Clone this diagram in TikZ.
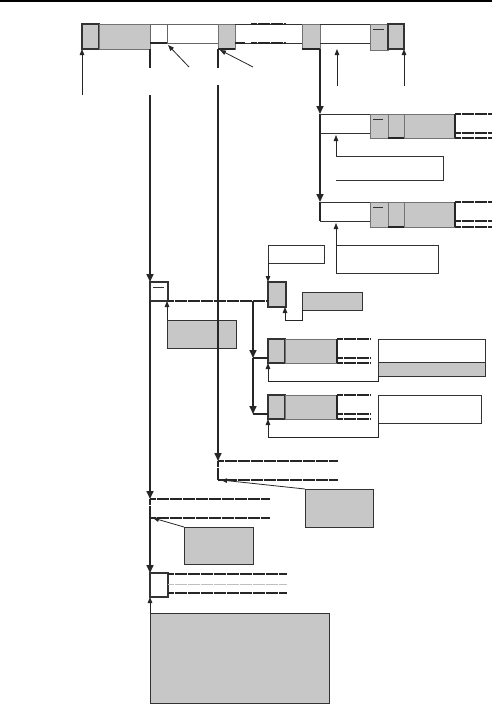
\documentclass[tikz,border=0pt]{standalone}
\usepackage{tikz}
\usetikzlibrary{arrows.meta,calc}

\begin{document}
\begin{tikzpicture}[
    x=1pt, y=-1pt,
    gbox/.style={rectangle, draw=black!55, fill=black!22, line width=0.8pt, inner sep=0pt, outer sep=0pt, anchor=north west},
    wbox/.style={rectangle, draw=black!80, fill=white, line width=0.8pt, inner sep=0pt, outer sep=0pt, anchor=north west},
    thk/.style={line width=1.6pt, draw=black!85},
    ln/.style={line width=0.8pt, draw=black!80},
    txt/.style={line width=1.8pt, draw=black!85, dash pattern=on 6pt off 0.5pt},
    arr/.style={-{Triangle[length=6pt,width=4.5pt]}, line width=0.8pt, draw=black!85},
    marr/.style={-{Triangle[length=8pt,width=7pt]}, line width=1.6pt, draw=black!85}
]
    \useasboundingbox (0,0) rectangle (492,704);
    \draw [line width=1.2pt] (0,1) -- (492,1);

    % top row
    \node [gbox, line width=1.5pt, draw=black!80, minimum width=17pt, minimum height=25pt] (t1) at (82,24) {};
    \node [gbox, minimum width=51pt, minimum height=25pt] (t2) at (99,24) {};
    \node [wbox, draw=black!60, minimum width=17pt, minimum height=19pt] (t3) at (150,24) {};
    \node [wbox, draw=black!60, minimum width=51pt, minimum height=19pt] (t4) at (167,24) {};
    \node [gbox, minimum width=17pt, minimum height=25pt] (t5) at (218,24) {};
    \node [gbox, minimum width=18pt, minimum height=25pt] (t6) at (302,24) {};
    \node [gbox, minimum width=18pt, minimum height=26pt] (t7) at (370,24) {};
    \node [gbox, line width=1.5pt, draw=black!80, minimum width=16pt, minimum height=25pt] (t8) at (388,24) {};
    \draw [thk] (t3.south west) -- (t3.south east);
    \draw [thk] (t5.south west) -- (t5.south east);
    \draw [thk] (t6.south west) -- (t6.south east);
    \draw [ln] (t5.north east) -- (t6.north west);
    \draw [ln] (t4.south -| t5.east) -- (t4.south -| t6.west);
    \draw [thk] (t4.south -| t5.east) -- ++(10,0);
    \draw [txt] (251,24) -- (286,24);
    \draw [txt] (251,43) -- (286,43);
    \draw [ln] (t6.north east) -- (t7.north west);
    \draw [ln] (t4.south -| t6.east) -- (t4.south -| t7.west);
    \draw [ln] ([shift={(3,5)}]t7.north west) -- ++(11,0);

    \coordinate (p1) at (82,95);
    \coordinate (p2) at (189,67);
    \coordinate (p3) at (253,67);
    \coordinate (p4) at (337,86);
    \coordinate (p5) at (404,86);
    \draw [arr] (p1) -- (t1.south west);
    \draw [arr] (p2) -- ([shift={(1,2)}]t4.south west);
    \draw [arr] (p3) -- ([shift={(2,1)}]t5.south west);
    \draw [arr] (p4) -- (p4 |- t6.south);
    \draw [arr] (p5) -- (t8.south east);

    % right trunk
    \coordinate (j1) at (320,114);
    \coordinate (j2) at (320,133);
    \coordinate (j3) at (320,202);
    \coordinate (j4) at (320,221);
    \draw [marr] (t6.south east) -- (j1);
    \draw [thk] (j1) -- (j2);
    \draw [marr] (j2) -- (j3);
    \draw [thk] (j3) -- (j4);

    \node [gbox, minimum width=18pt, minimum height=24pt] (r1a) at (370,114) {};
    \node [gbox, minimum width=16pt, minimum height=24pt] (r1b) at (388,114) {};
    \node [gbox, minimum width=51pt, minimum height=24pt] (r1c) at (404,114) {};
    \draw [thk] (r1b.south west) -- (r1b.south east);
    \draw [thk] (r1c.north east) -- (r1c.south east);
    \draw [ln] ([shift={(3,5)}]r1a.north west) -- ++(10,0);
    \draw [ln] (j1) -- (r1a.north west);
    \draw [ln] (j2) -- (j2 -| r1a.west);
    \draw [txt] (r1c.north east) -- ++(37,0);
    \draw [txt] ([shift={(0,-5)}]r1c.south east) -- ++(37,0);
    \draw [txt] (r1c.south east) -- ++(37,0);

    \node [gbox, minimum width=18pt, minimum height=25pt] (r2a) at (370,202) {};
    \node [gbox, minimum width=16pt, minimum height=25pt] (r2b) at (388,202) {};
    \node [gbox, minimum width=51pt, minimum height=25pt] (r2c) at (404,202) {};
    \draw [thk] (r2b.south west) -- (r2b.south east);
    \draw [thk] (r2c.north east) -- (r2c.south east);
    \draw [ln] ([shift={(3,5)}]r2a.north west) -- ++(10,0);
    \draw [ln] (j3) -- (r2a.north west);
    \draw [ln] (j4) -- (j4 -| r2a.west);
    \draw [txt] (r2c.north east) -- ++(37,0);
    \draw [txt] ([shift={(0,-6)}]r2c.south east) -- ++(37,0);
    \draw [txt] (r2c.south east) -- ++(37,0);

    % callouts on the right
    \node [inner sep=0pt, minimum width=107pt, minimum height=24pt, anchor=north west] (c1) at (336,156) {};
    \draw [ln] (c1.north west) -- (c1.north east) -- (c1.south east) -- (c1.south west);
    \draw [arr] (c1.north west) -- ([yshift=-2pt]c1.north west |- j2);
    \node [wbox, minimum width=102pt, minimum height=28pt] (c2) at (336,245) {};
    \draw [arr] (c2.south west) -- ([yshift=-2pt]c2.west |- j4);

    % middle
    \node [wbox, line width=1.2pt, minimum width=18pt, minimum height=19pt] (s1) at (150,282) {};
    \draw [ln] ([shift={(3,5)}]s1.north west) -- ++(11,0);
    \node [wbox, minimum width=56pt, minimum height=18pt] (c3) at (268,245) {};
    \node [gbox, line width=1.5pt, draw=black!80, minimum width=18pt, minimum height=25pt] (s2) at (268,282) {};
    \draw [arr] (c3.south west) -- (s2.north west);
    \draw [txt] (s1.south east) -- (s1.south east -| s2.west);

    \coordinate (v1) at (150,95);
    \coordinate (v2) at (218,85);
    \draw [thk] (t2.south east) -- ++(0,19);
    \draw [thk] (t5.south west) -- ++(0,19);
    \draw [marr] (v1) -- (s1.north west);

    \node [gbox, draw=black!80, minimum width=69pt, minimum height=28pt] (g1) at (167,320) {};
    \draw [arr] (g1.north west) -- (g1.north west |- s1.south);
    \node [gbox, draw=black!80, minimum width=60pt, minimum height=18pt] (g2) at (302,292) {};
    \draw [arr] (g2.south west) -- ++(0,10) -| ([xshift=-1pt]s2.south east);

    % middle branches
    \coordinate (k0) at (253,301);
    \coordinate (k1) at (253,358);
    \coordinate (k2) at (253,414);
    \draw [marr] (k0) -- (k1);
    \draw [marr] (k1) -- (k2);

    \node [gbox, line width=1.5pt, draw=black!80, minimum width=17pt, minimum height=24pt] (m1a) at (268,339) {};
    \node [gbox, minimum width=52pt, minimum height=24pt] (m1b) at (285,339) {};
    \draw [thk] (m1b.north east) -- (m1b.south east);
    \draw [thk] (k1) -- (k1 -| m1a.west);
    \draw [txt] (m1b.north east) -- ++(33,0);
    \draw [txt] ([shift={(0,-5)}]m1b.south east) -- ++(33,0);
    \draw [txt] (m1b.south east) -- ++(33,0);
    \node [wbox, minimum width=107pt, minimum height=23pt] (c4) at (378,339) {};
    \node [gbox, draw=black!80, minimum width=107pt, minimum height=14pt] (c4b) at (378,362) {};
    \draw [arr] (c4b.south west) -- ++(0,5) -| (m1a.south west);

    \node [gbox, line width=1.5pt, draw=black!80, minimum width=17pt, minimum height=24pt] (m2a) at (268,395) {};
    \node [gbox, minimum width=52pt, minimum height=24pt] (m2b) at (285,395) {};
    \draw [thk] (m2b.north east) -- (m2b.south east);
    \draw [thk] (k2) -- (k2 -| m2a.west);
    \draw [txt] (m2b.north east) -- ++(33,0);
    \draw [txt] ([shift={(0,-5)}]m2b.south east) -- ++(33,0);
    \draw [txt] (m2b.south east) -- ++(33,0);
    \node [wbox, minimum width=103pt, minimum height=28pt] (c5) at (378,395) {};
    \draw [arr] (c5.south west) -- ++(0,14) -| (m2a.south west);

    % lower part
    \coordinate (b1) at (218,461);
    \coordinate (b1b) at (218,480);
    \draw [marr] (v2) -- (b1);
    \draw [txt] (b1) -- ++(120,0);
    \draw [txt] (b1) -- (b1b);
    \draw [txt] (b1b) -- ++(120,0);
    \node [gbox, draw=black!80, minimum width=68pt, minimum height=38pt] (g3) at (305,489) {};
    \draw [arr] (g3.north west) -- ([xshift=3pt]b1b);

    \coordinate (b2) at (150,499);
    \coordinate (b2b) at (150,518);
    \draw [marr] (s1.south west) -- (b2);
    \draw [txt] (b2) -- ++(120,0);
    \draw [txt] (b2) -- (b2b);
    \draw [txt] (b2b) -- ++(120,0);
    \node [gbox, draw=black!80, minimum width=69pt, minimum height=37pt] (g4) at (184,527) {};
    \draw [arr] (g4.north west) -- ([xshift=3pt]b2b);

    \node [wbox, line width=1.2pt, minimum width=18pt, minimum height=24pt] (s3) at (150,573) {};
    \draw [marr] (b2b) -- (s3.north west);
    \draw [txt] ([yshift=-1pt]s3.north east) -- ++(119,0);
    \draw [txt, draw=black!25, line width=1pt] ([shift={(0,11)}]s3.north east) -- ++(119,0);
    \draw [txt] ([shift={(0,-4)}]s3.south east) -- ++(119,0);
    \node [gbox, draw=black!80, minimum width=179pt, minimum height=90pt] (g5) at (150,613) {};
    \draw [arr] (g5.north west) -- (s3.south west);
\end{tikzpicture}
\end{document}
